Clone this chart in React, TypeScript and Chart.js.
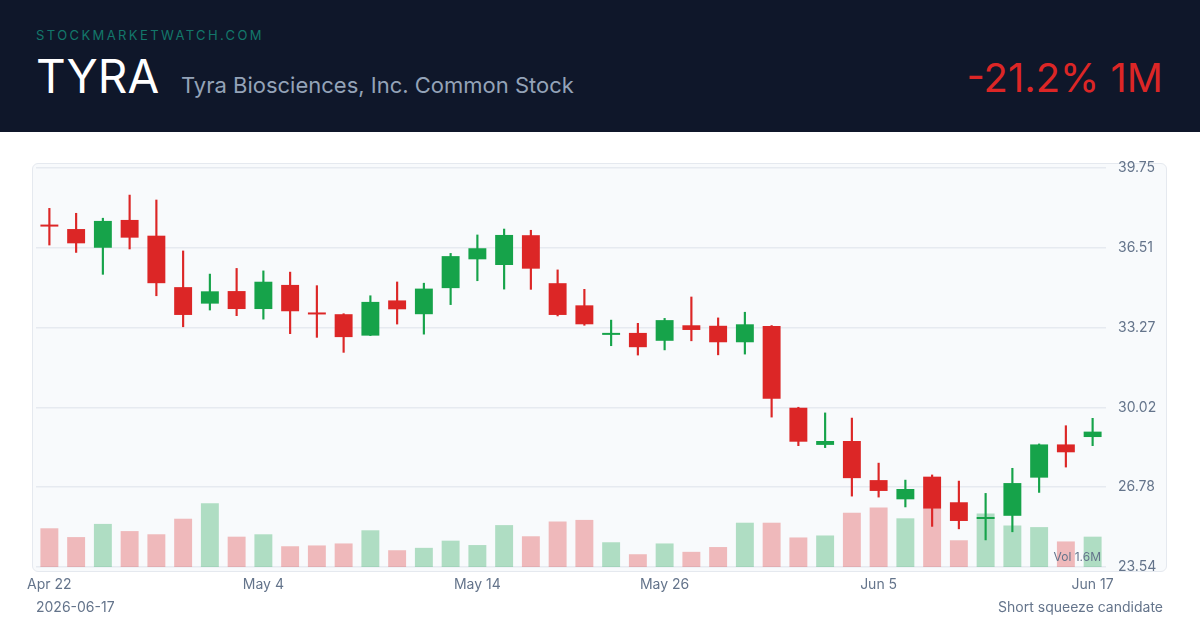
import React, { useEffect, useRef } from "react";
import { Chart, registerables } from "chart.js";

Chart.register(...registerables);

const dates = [
  "Apr 22", "Apr 23", "Apr 24", "Apr 27", "Apr 28", "Apr 29", "Apr 30", "May 1",
  "May 4", "May 5", "May 6", "May 7", "May 8", "May 11", "May 12", "May 13",
  "May 14", "May 15", "May 18", "May 19", "May 20", "May 21", "May 22", "May 26",
  "May 27", "May 28", "May 29", "Jun 1", "Jun 2", "Jun 3", "Jun 4", "Jun 5",
  "Jun 8", "Jun 9", "Jun 10", "Jun 11", "Jun 12", "Jun 15", "Jun 16", "Jun 17",
];

const tickLabels = ["Apr 22", "May 4", "May 14", "May 26", "Jun 5", "Jun 17"];

const opens = [
  37.42, 37.27, 36.51, 37.64, 37.0, 34.91, 34.24, 34.75, 34.02, 35.0,
  33.88, 33.81, 32.94, 34.37, 33.81, 34.87, 36.04, 35.81, 37.02, 35.07,
  34.17, 32.97, 33.05, 32.73, 33.36, 33.34, 32.67, 33.33, 30.01, 28.5,
  28.66, 27.07, 26.29, 27.21, 26.17, 25.49, 25.62, 27.17, 28.52, 28.82,
];
const highs = [
  38.11, 37.91, 37.71, 38.65, 38.45, 36.38, 35.44, 35.67, 35.57, 35.52,
  34.97, 33.83, 34.56, 35.12, 35.07, 36.28, 37.03, 37.27, 37.22, 35.61,
  34.82, 33.57, 33.44, 33.64, 34.51, 33.66, 33.89, 33.35, 30.03, 29.8,
  29.59, 27.76, 27.07, 27.28, 27.03, 26.53, 27.55, 28.54, 29.28, 29.58,
];
const lows = [
  36.62, 36.32, 35.43, 36.46, 34.56, 33.3, 33.98, 33.75, 33.61, 33.02,
  32.87, 32.26, 32.94, 33.41, 33.0, 34.2, 35.17, 34.83, 34.82, 33.74,
  33.36, 32.53, 32.15, 32.36, 32.73, 32.16, 32.19, 29.63, 28.47, 28.39,
  26.42, 26.38, 25.98, 25.19, 25.09, 24.64, 24.97, 26.57, 27.6, 28.47,
];
const closes = [
  37.37, 36.69, 37.6, 36.92, 35.07, 33.78, 34.74, 34.02, 35.13, 33.93,
  33.8, 32.88, 34.31, 34.01, 34.85, 36.17, 36.49, 37.03, 35.66, 33.78,
  33.4, 33.0, 32.47, 33.57, 33.17, 32.67, 33.4, 30.38, 28.63, 28.66,
  27.15, 26.63, 26.71, 25.91, 25.41, 25.52, 26.95, 28.52, 28.2, 29.04,
];
// volume in millions of shares
const volumes = [
  0.97, 0.75, 1.08, 0.9, 0.82, 1.21, 1.6, 0.76, 0.82, 0.52,
  0.54, 0.59, 0.92, 0.42, 0.48, 0.66, 0.55, 1.05, 0.77, 1.14,
  1.18, 0.62, 0.32, 0.59, 0.38, 0.5, 1.11, 1.11, 0.74, 0.79,
  1.36, 1.49, 1.22, 1.46, 0.67, 1.34, 1.04, 1.0, 0.64, 0.76,
];
const yTicks = [23.54, 26.78, 30.02, 33.27, 36.51, 39.75];

const UP = "#16a34a";
const DOWN = "#dc2626";
const UP_VOL = "rgba(22,163,74,0.32)";
const DOWN_VOL = "rgba(220,38,38,0.3)";
const MUTED = "#64748b";
const FONT = "Inter, 'Noto Sans', sans-serif";

const volLabelPlugin = {
  id: "volLabel",
  afterDatasetsDraw(chart: any) {
    const { ctx, chartArea } = chart;
    ctx.save();
    ctx.font = `12px ${FONT}`;
    ctx.fillStyle = MUTED;
    ctx.textAlign = "right";
    ctx.textBaseline = "middle";
    ctx.fillText("Vol 1.6M", chartArea.right - 5, chartArea.bottom - 10);
    ctx.restore();
  },
};

export default function App() {
  const ref = useRef<HTMLCanvasElement>(null);

  useEffect(() => {
    const canvas = ref.current;
    if (!canvas) return;
    const isUp = (i: number) => closes[i] >= opens[i];
    const chart = new Chart(canvas, {
      type: "bar",
      data: {
        labels: dates,
        datasets: [
          {
            label: "Body",
            data: opens.map((o, i) => [o, closes[i]]) as any,
            backgroundColor: opens.map((_, i) => (isUp(i) ? UP : DOWN)),
            borderWidth: 0,
            grouped: false,
            barPercentage: 0.67,
            categoryPercentage: 1,
            minBarLength: 2,
            yAxisID: "y",
            order: 1,
          },
          {
            label: "Wick",
            data: lows.map((l, i) => [l, highs[i]]) as any,
            backgroundColor: opens.map((_, i) => (isUp(i) ? UP : DOWN)),
            borderWidth: 0,
            grouped: false,
            barThickness: 1.5,
            yAxisID: "y",
            order: 2,
          },
          {
            label: "Volume",
            data: volumes,
            backgroundColor: opens.map((_, i) => (isUp(i) ? UP_VOL : DOWN_VOL)),
            borderWidth: 0,
            grouped: false,
            barPercentage: 0.67,
            categoryPercentage: 1,
            yAxisID: "v",
            order: 3,
          },
        ],
      },
      options: {
        responsive: false,
        animation: false,
        devicePixelRatio: 1,
        layout: { padding: { left: 36, top: 28, right: 33, bottom: 13 } },
        plugins: {
          legend: { display: false },
          tooltip: { enabled: false },
        },
        scales: {
          x: {
            offset: true,
            grid: { display: false, drawTicks: false },
            border: { display: false },
            ticks: {
              autoSkip: false,
              maxRotation: 0,
              padding: 9,
              color: MUTED,
              font: { family: FONT, size: 14 },
              callback: (_v: any, i: number) =>
                tickLabels.includes(dates[i]) ? dates[i] : "",
            },
            afterFit: (s: any) => {
              s.height = 30;
            },
          },
          y: {
            position: "right",
            min: yTicks[0],
            max: yTicks[yTicks.length - 1],
            grid: { color: "#e6eaf0", drawTicks: false, lineWidth: 1.5 },
            border: { display: false },
            afterBuildTicks: (s: any) => {
              s.ticks = yTicks.map((v) => ({ value: v }));
            },
            afterFit: (s: any) => {
              s.width = 61;
            },
            ticks: {
              padding: 12,
              color: MUTED,
              font: { family: FONT, size: 14 },
              callback: (v: any) => Number(v).toFixed(2),
            },
          },
          v: {
            display: false,
            min: 0,
            max: 10,
          },
        },
      },
      plugins: [volLabelPlugin],
    } as any);
    return () => chart.destroy();
  }, []);

  return (
    <div
      style={{
        position: "absolute",
        left: 0,
        top: 0,
        width: 1200,
        height: 630,
        background: "#ffffff",
        overflow: "hidden",
        fontFamily: FONT,
      }}
    >
      <div
        style={{
          position: "absolute",
          left: 0,
          top: 0,
          width: 1200,
          height: 132,
          background: "#0f172a",
        }}
      >
        <div
          style={{
            position: "absolute",
            left: 36,
            top: 29,
            fontSize: 13,
            lineHeight: 1,
            letterSpacing: "2.4px",
            color: "#13776a",
            whiteSpace: "nowrap",
          }}
        >
          STOCKMARKETWATCH.COM
        </div>
        <div
          style={{
            position: "absolute",
            left: 36,
            top: 53,
            fontSize: 46,
            lineHeight: 1,
            color: "#ffffff",
            whiteSpace: "nowrap",
          }}
        >
          TYRA
        </div>
        <div
          style={{
            position: "absolute",
            left: 181,
            top: 73.5,
            fontSize: 22,
            lineHeight: 1,
            color: "#94a3b8",
            whiteSpace: "nowrap",
          }}
        >
          Tyra Biosciences, Inc. Common Stock
        </div>
        <div
          style={{
            position: "absolute",
            right: 37,
            top: 58,
            fontSize: 40,
            lineHeight: 1,
            color: "#dc2626",
            whiteSpace: "nowrap",
          }}
        >
          -21.2% 1M
        </div>
      </div>
      <div
        style={{
          position: "absolute",
          left: 32,
          top: 163,
          width: 1133,
          height: 407,
          border: "1px solid #e5e9ef",
          borderRadius: 6,
          background: "#f8fafc",
        }}
      />
      <canvas
        ref={ref}
        width={1200}
        height={470}
        style={{ position: "absolute", left: 0, top: 140, width: 1200, height: 470 }}
      />
      <div
        style={{
          position: "absolute",
          left: 36,
          top: 600,
          fontSize: 14,
          lineHeight: 1,
          color: MUTED,
          whiteSpace: "nowrap",
        }}
      >
        2026-06-17
      </div>
      <div
        style={{
          position: "absolute",
          right: 37,
          top: 600,
          fontSize: 14,
          lineHeight: 1,
          color: MUTED,
          whiteSpace: "nowrap",
        }}
      >
        Short squeeze candidate
      </div>
    </div>
  );
}
